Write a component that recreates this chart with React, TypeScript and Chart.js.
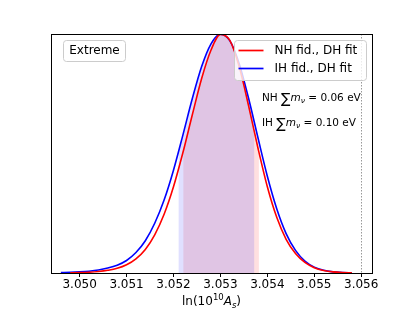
import React, { useEffect, useRef } from "react";
import { Chart, registerables } from "chart.js";

Chart.register(...registerables);

// ---- data ----
const nhX = [3.0498, 3.05, 3.0502, 3.0504, 3.0506, 3.0508, 3.051, 3.0512, 3.0514, 3.0516, 3.0518, 3.052, 3.0522, 3.0524, 3.0526, 3.0528, 3.053, 3.0532, 3.0534, 3.0536, 3.0538, 3.054, 3.0542, 3.0544, 3.0546, 3.0548, 3.055, 3.0552, 3.0554, 3.0556, 3.0558];
const nhY = [0.0009, 0.0017, 0.0032, 0.0062, 0.0113, 0.0195, 0.0346, 0.0595, 0.0987, 0.16, 0.246, 0.361, 0.503, 0.661, 0.814, 0.933, 0.998, 0.973, 0.864, 0.7, 0.523, 0.361, 0.233, 0.141, 0.0813, 0.0441, 0.0222, 0.0106, 0.0048, 0.002, 0.0008];
const ihX = [3.0496, 3.0498, 3.05, 3.0502, 3.0504, 3.0506, 3.0508, 3.051, 3.0512, 3.0514, 3.0516, 3.0518, 3.052, 3.0522, 3.0524, 3.0526, 3.0528, 3.053, 3.0532, 3.0534, 3.0536, 3.0538, 3.054, 3.0542, 3.0544, 3.0546, 3.0548, 3.055, 3.0552, 3.0554, 3.0556, 3.0558];
const ihY = [0.0017, 0.0027, 0.0046, 0.0075, 0.0123, 0.0206, 0.0327, 0.0524, 0.0856, 0.135, 0.208, 0.305, 0.43, 0.577, 0.729, 0.864, 0.959, 0.999, 0.972, 0.876, 0.731, 0.566, 0.405, 0.269, 0.165, 0.0948, 0.05, 0.0245, 0.0111, 0.0047, 0.0018, 0.0007];
const nhBand = [3.05221, 3.05382];
const ihBand = [3.05211, 3.05372];
const tickValues = [3.05, 3.051, 3.052, 3.053, 3.054, 3.055, 3.056];
const refLine = 3.056;
const xMin = 3.04939;
const xMax = 3.05623;
const seriesLabels = ["NH fid., DH fit", "IH fid., DH fit"];
const boxLabel = "Extreme";
const massNotes = [
  { h: "NH", v: "0.06 eV" },
  { h: "IH", v: "0.10 eV" },
];

const FONT = "'DejaVu Sans', sans-serif";

const decorPlugin = {
  id: "decor",
  beforeDatasetsDraw(chart: any) {
    const { ctx, chartArea, scales } = chart;
    const bands = [
      { ds: 0, band: nhBand, color: "rgba(255,0,0,0.12)" },
      { ds: 1, band: ihBand, color: "rgba(0,0,255,0.12)" },
    ];
    for (const b of bands) {
      const meta = chart.getDatasetMeta(b.ds);
      const pts = meta.data;
      const x0 = scales.x.getPixelForValue(b.band[0]);
      const x1 = scales.x.getPixelForValue(b.band[1]);
      ctx.save();
      ctx.beginPath();
      ctx.rect(x0, chartArea.top, x1 - x0, chartArea.bottom - chartArea.top);
      ctx.clip();
      ctx.beginPath();
      ctx.moveTo(pts[0].x, chartArea.bottom);
      ctx.lineTo(pts[0].x, pts[0].y);
      for (let i = 1; i < pts.length; i++) {
        const p = pts[i - 1];
        const c = pts[i];
        ctx.bezierCurveTo(p.cp2x ?? p.x, p.cp2y ?? p.y, c.cp1x ?? c.x, c.cp1y ?? c.y, c.x, c.y);
      }
      ctx.lineTo(pts[pts.length - 1].x, chartArea.bottom);
      ctx.closePath();
      ctx.fillStyle = b.color;
      ctx.fill();
      ctx.restore();
    }
    // dotted reference line
    const xr = Math.round(scales.x.getPixelForValue(refLine)) + 0.5;
    ctx.save();
    ctx.strokeStyle = "rgba(0,0,0,0.4)";
    ctx.lineWidth = 1;
    ctx.setLineDash([1.5, 1.5]);
    ctx.beginPath();
    ctx.moveTo(xr, chartArea.top);
    ctx.lineTo(xr, chartArea.bottom);
    ctx.stroke();
    ctx.restore();
  },
  afterDraw(chart: any) {
    const { ctx, chartArea } = chart;
    const L = chartArea.left;
    const T = chartArea.top;
    ctx.save();
    // frame
    ctx.strokeStyle = "#000";
    ctx.lineWidth = 1;
    ctx.strokeRect(Math.round(L) + 0.5, Math.round(T) + 0.5, Math.round(chartArea.right - L), Math.round(chartArea.bottom - T));

    const rr = (x: number, y: number, w: number, h: number, r: number) => {
      ctx.beginPath();
      ctx.moveTo(x + r, y);
      ctx.lineTo(x + w - r, y);
      ctx.quadraticCurveTo(x + w, y, x + w, y + r);
      ctx.lineTo(x + w, y + h - r);
      ctx.quadraticCurveTo(x + w, y + h, x + w - r, y + h);
      ctx.lineTo(x + r, y + h);
      ctx.quadraticCurveTo(x, y + h, x, y + h - r);
      ctx.lineTo(x, y + r);
      ctx.quadraticCurveTo(x, y, x + r, y);
      ctx.closePath();
    };

    // "Extreme" box
    rr(L + 12.5, T + 6.5, 62, 21, 3);
    ctx.fillStyle = "rgba(255,255,255,0.8)";
    ctx.fill();
    ctx.strokeStyle = "#cccccc";
    ctx.stroke();
    ctx.fillStyle = "#000";
    ctx.font = `12px ${FONT}`;
    ctx.textBaseline = "middle";
    ctx.textAlign = "center";
    ctx.fillText(boxLabel, L + 43.5, T + 17);

    // legend
    const lx = 234.5;
    const ly = T + 6.5;
    rr(lx, ly, 132, 40, 3);
    ctx.fillStyle = "rgba(255,255,255,0.8)";
    ctx.fill();
    ctx.strokeStyle = "#cccccc";
    ctx.stroke();
    const colors = ["#ff0000", "#0000ff"];
    ctx.textAlign = "left";
    for (let i = 0; i < 2; i++) {
      const y = ly + 10 + i * 18;
      ctx.strokeStyle = colors[i];
      ctx.lineWidth = 1.7;
      ctx.beginPath();
      ctx.moveTo(lx + 4, y);
      ctx.lineTo(lx + 29, y);
      ctx.stroke();
      ctx.fillStyle = "#000";
      ctx.font = `12px ${FONT}`;
      ctx.fillText(seriesLabels[i], lx + 40, y + 0.5);
    }

    // mass annotations
    for (let i = 0; i < massNotes.length; i++) {
      let x = 262;
      const y = T + 63 + i * 25;
      ctx.fillStyle = "#000";
      ctx.textBaseline = "alphabetic";
      const base = y + 4;
      ctx.font = `10.5px ${FONT}`;
      ctx.fillText(massNotes[i].h + " ", x, base);
      x += ctx.measureText(massNotes[i].h + " ").width;
      ctx.font = `14px ${FONT}`;
      ctx.fillText("\u2211", x, base + 2);
      x += ctx.measureText("\u2211").width;
      ctx.font = `italic 10.5px ${FONT}`;
      ctx.fillText("m", x, base);
      x += ctx.measureText("m").width;
      ctx.font = `italic 7.5px ${FONT}`;
      ctx.fillText("\u03bd", x, base + 2);
      x += ctx.measureText("\u03bd").width;
      ctx.font = `10.5px ${FONT}`;
      ctx.fillText(" = " + massNotes[i].v, x, base);
    }

    // x-axis title: ln(10^10 A_s)
    const parts = [
      { t: "ln(10", f: `12px ${FONT}`, dy: 0 },
      { t: "10", f: `8.5px ${FONT}`, dy: -5 },
      { t: "A", f: `italic 12px ${FONT}`, dy: 0 },
      { t: "s", f: `italic 8.5px ${FONT}`, dy: 2.5 },
      { t: ")", f: `12px ${FONT}`, dy: 0 },
    ];
    let tw = 0;
    for (const p of parts) {
      ctx.font = p.f;
      tw += ctx.measureText(p.t).width;
    }
    let tx = (chartArea.left + chartArea.right) / 2 - tw / 2;
    const ty = 305;
    for (const p of parts) {
      ctx.font = p.f;
      ctx.fillText(p.t, tx, ty + p.dy);
      tx += ctx.measureText(p.t).width;
    }
    ctx.restore();
  },
};

export default function App() {
  const ref = useRef<HTMLCanvasElement | null>(null);
  useEffect(() => {
    if (!ref.current) return;
    const chart = new Chart(ref.current, {
      type: "line",
      data: {
        datasets: [
          {
            label: seriesLabels[0],
            data: nhX.map((x, i) => ({ x, y: nhY[i] })),
            borderColor: "#ff0000",
            borderWidth: 1.6,
            pointRadius: 0,
            fill: false,
            cubicInterpolationMode: "monotone",
          },
          {
            label: seriesLabels[1],
            data: ihX.map((x, i) => ({ x, y: ihY[i] })),
            borderColor: "#0000ff",
            borderWidth: 1.6,
            pointRadius: 0,
            fill: false,
            cubicInterpolationMode: "monotone",
          },
        ],
      },
      options: {
        animation: false,
        responsive: false,
        devicePixelRatio: 1,
        layout: { padding: { left: 51, right: 43, top: 34, bottom: 0 } },
        plugins: { legend: { display: false }, tooltip: { enabled: false } },
        scales: {
          x: {
            type: "linear",
            min: xMin,
            max: xMax,
            afterBuildTicks: (s: any) => {
              s.ticks = tickValues.map((v) => ({ value: v }));
            },
            afterFit: (s: any) => {
              s.height = 38;
            },
            ticks: {
              callback: (v: any) => Number(v).toFixed(3),
              font: { family: "DejaVu Sans", size: 12 },
              color: "#000",
              padding: 1,
              maxRotation: 0,
              autoSkip: false,
            },
            grid: { display: true, drawOnChartArea: false, drawTicks: true, tickLength: 4, color: "#000" },
            border: { display: false },
          },
          y: { display: false, min: 0, max: 1.0 },
        },
      },
      plugins: [decorPlugin],
    });
    return () => chart.destroy();
  }, []);
  return (
    <div style={{ position: "fixed", left: 0, top: 0, width: 415, height: 311, background: "#fff" }}>
      <canvas ref={ref} width={415} height={311} />
    </div>
  );
}
